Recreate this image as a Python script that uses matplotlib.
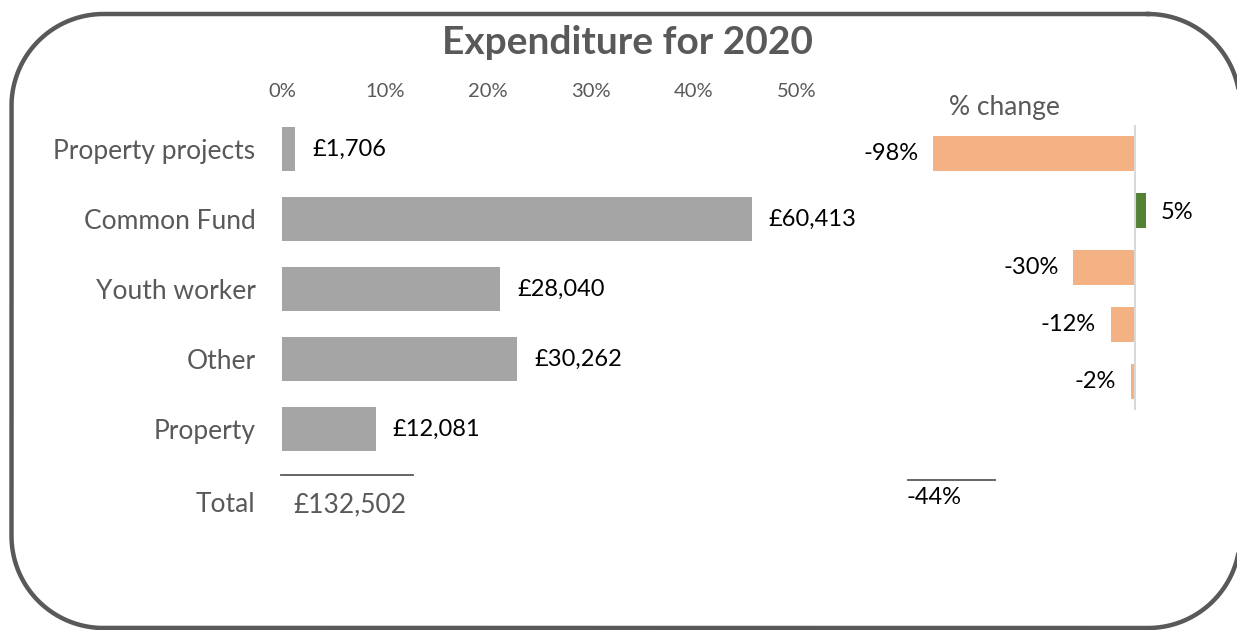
import numpy as np
import matplotlib
matplotlib.use("Agg")
import matplotlib.pyplot as plt
from matplotlib.transforms import IdentityTransform

plt.rcParams['font.family'] = ['Lato', 'DejaVu Sans']

categories = ["Property projects", "Common Fund", "Youth worker", "Other", "Property"]
amounts = [1706, 60413, 28040, 30262, 12081]
pct_change = [-98, 5, -30, -12, -2]
total_change = -44
xticks = [0, 0.1, 0.2, 0.3, 0.4, 0.5]

W, H = 1237, 630
fig = plt.figure(figsize=(W / 100, H / 100), dpi=100)

def fx(px):
    return px / W

def fy(py):
    return 1 - py / H

# rounded border drawn in pixel coords (y from top), corners as quarter arcs
def rounded_rect(x0, y0, x1, y1, r, n=40):
    pts = []
    corners = [(x1 - r, y0 + r, -90, 0), (x1 - r, y1 - r, 0, 90),
               (x0 + r, y1 - r, 90, 180), (x0 + r, y0 + r, 180, 270)]
    for cx, cy, a0, a1 in corners:
        t = np.radians(np.linspace(a0, a1, n))
        pts.extend(zip(cx + r * np.cos(t), cy + r * np.sin(t)))
    pts.append(pts[0])
    pts = np.array(pts)
    return pts[:, 0], H - pts[:, 1]

bx, by = rounded_rect(11.5, 14, 1240, 628, 92)
fig.add_artist(plt.Line2D(bx, by, transform=IdentityTransform(), color="#595959", lw=3.2,
                          solid_joinstyle="round"))

fig.text(fx(628), fy(42), "Expenditure for 2020", ha="center", va="center",
         fontsize=28, fontweight="bold", color="#595959")

total = sum(amounts)
shares = [a / total for a in amounts]
y = np.arange(len(categories))

# left chart: share of total
ax = fig.add_axes([fx(282), fy(464), fx(797) - fx(282), fy(114) - fy(464)])
ax.barh(y, shares, height=0.63, color="#a5a5a5")
ax.set_xlim(0, 0.5)
ax.set_ylim(len(categories) - 0.5, -0.5)
ax.xaxis.tick_top()
ax.set_xticks(xticks)
ax.set_xticklabels([f"{int(round(t * 100))}%" for t in xticks], fontsize=14.5, color="#595959")
ax.tick_params(axis="x", length=0, pad=10)
ax.set_yticks(y)
ax.set_yticklabels(categories, fontsize=19, color="#595959")
ax.tick_params(axis="y", length=0, pad=19)
for s in ax.spines.values():
    s.set_visible(False)
for yi, (sh, a) in enumerate(zip(shares, amounts)):
    ax.annotate(f"£{a:,}", (sh, yi), xytext=(17, 0), textcoords="offset pixels",
                ha="left", va="center", fontsize=17, color="black")

# total row
fig.add_artist(plt.Line2D([fx(281), fx(413)], [fy(475), fy(475)], color="#595959", lw=1.3))
fig.text(fx(255), fy(505), "Total", ha="right", va="center", fontsize=19, color="#595959")
fig.text(fx(350), fy(505), f"£{total:,}", ha="center", va="center", fontsize=19, color="#595959")

# right chart: % change
ax2 = fig.add_axes([fx(929), fy(410), fx(1156) - fx(929), fy(125) - fy(410)])
colors = ["#548235" if v > 0 else "#f4b183" for v in pct_change]
ax2.barh(y, pct_change, height=0.62, color=colors)
ax2.set_xlim(-100, 10)
ax2.set_ylim(len(categories) - 0.5, -0.5)
ax2.axvline(0, color="#d9d9d9", lw=1.5)
ax2.set_xticks([])
ax2.set_yticks([])
for s in ax2.spines.values():
    s.set_visible(False)
for yi, v in enumerate(pct_change):
    off = 15 if v > 0 else -15
    ax2.annotate(f"{v}%", (v, yi), xytext=(off, -2 if v > 0 else 0), textcoords="offset pixels",
                 ha="left" if v > 0 else "right", va="center", fontsize=17, color="black")
fig.text(fx(1004), fy(107), "% change", ha="center", va="center", fontsize=19, color="#595959")

fig.add_artist(plt.Line2D([fx(908), fx(995)], [fy(480), fy(480)], color="#595959", lw=1.3))
fig.text(fx(934), fy(497), f"{total_change}%", ha="center", va="center", fontsize=17, color="black")

fig.savefig("out.png", dpi=100)
